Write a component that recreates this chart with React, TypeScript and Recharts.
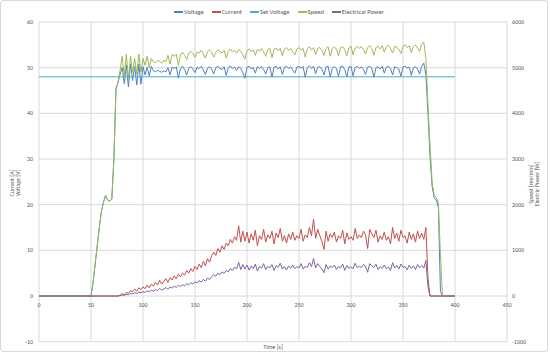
import React from "react"
import { CartesianGrid, Line, LineChart, XAxis, YAxis } from "recharts"

// time [s]
const time = [
  0, 10, 20, 30, 40, 48,
  50, 52, 54, 56, 58, 60, 62, 64, 66, 68,
  70, 72, 74, 76, 78, 80, 82, 84, 86, 88,
  90, 92, 94, 96, 98, 100, 102, 104, 106, 108,
  110, 112, 114, 116, 118, 120, 122, 124, 126, 128,
  130, 132, 134, 136, 138, 140, 142, 144, 146, 148,
  150, 152, 154, 156, 158, 160, 162, 164, 166, 168,
  170, 172, 174, 176, 178, 180, 182, 184, 186, 188,
  190, 192, 194, 196, 198, 200, 202, 204, 206, 208,
  210, 212, 214, 216, 218, 220, 222, 224, 226, 228,
  230, 232, 234, 236, 238, 240, 242, 244, 246, 248,
  250, 252, 254, 256, 258, 260, 262, 264, 266, 268,
  270, 272, 274, 276, 278, 280, 282, 284, 286, 288,
  290, 292, 294, 296, 298, 300, 302, 304, 306, 308,
  310, 312, 314, 316, 318, 320, 322, 324, 326, 328,
  330, 332, 334, 336, 338, 340, 342, 344, 346, 348,
  350, 352, 354, 356, 358, 360, 362, 364, 366, 368,
  370, 372, 374, 376, 378, 380, 382, 384, 386, 388,
  390, 400,
]

// Voltage [V]
const voltage = [
  0, 0, 0, 0, 0, 0,
  0, 3, 7, 11, 15, 18.5, 20.5, 22, 21, 20.8,
  21.2, 30, 45.5, 46.8, 48.6, 50, 46.5, 50.6, 45.8, 50.8,
  47.2, 50.2, 46.2, 50.8, 46.4, 50.2, 48.4, 50.1, 48.2, 50.3,
  49.3, 49.1, 49.4, 49.2, 49.0, 49.3, 49.1, 50.0, 48.4, 50.1,
  49.8, 50.2, 47.7, 49.8, 50.3, 49.6, 48.4, 49.9, 50.2, 49.7,
  48.9, 50.1, 49.8, 50.3, 49.5, 48.5, 49.9, 50.2, 49.7, 48.6,
  50.0, 50.3, 49.8, 49.6, 50.2, 48.3, 49.9, 50.4, 49.8, 50.1,
  49.4, 50.2, 49.9, 48.9, 47.7, 50.1, 50.3, 49.7, 50.0, 48.8,
  50.2, 49.8, 50.3, 49.6, 48.6, 50.0, 50.2, 47.9, 50.1, 50.3,
  49.7, 50.2, 48.5, 50.1, 50.3, 49.8, 50.2, 49.5, 48.8, 50.1,
  50.3, 49.9, 50.2, 47.9, 50.0, 50.4, 49.8, 50.3, 48.7, 50.1,
  50.2, 49.7, 48.4, 50.1, 50.3, 47.9, 49.9, 50.2, 49.8, 48.1,
  50.2, 50.3, 49.6, 48.0, 50.1, 50.3, 48.2, 50.0, 50.3, 49.8,
  50.2, 49.6, 48.5, 50.1, 50.3, 49.9, 47.9, 50.0, 50.2, 49.7,
  50.3, 48.8, 50.1, 50.3, 49.8, 48.4, 50.2, 50.0, 49.7, 48.1,
  50.2, 50.3, 49.9, 50.1, 48.3, 50.0, 50.2, 49.7, 48.6, 50.3,
  51, 48.5, 40, 30.5, 24, 21.5, 21, 19.5, 1, 0,
  0, 0,
]

// Current [A]
const current = [
  0, 0, 0, 0, 0, 0,
  0, 0, 0, 0, 0, 0, 0, 0, 0, 0,
  0, 0, 0, 0, 0.2, 0.5, 0.3, 0.8, 0.6, 1.2,
  0.9, 1.5, 1.1, 1.8, 1.4, 2.0, 1.6, 2.4, 1.8, 2.6,
  2.2, 3.0, 2.4, 3.4, 2.6, 3.2, 3.8, 3.0, 4.0, 3.5,
  4.4, 3.8, 4.8, 4.2, 5.0, 4.6, 5.6, 5.0, 6.0, 5.4,
  6.5, 5.8, 7.0, 6.2, 7.6, 6.6, 8.2, 7.4, 8.8, 9.6,
  8.9, 10.4, 9.6, 11.0, 10.2, 11.6, 11.0, 12.4, 11.6, 13.0,
  12.2, 15.4, 11.8, 14.2, 12.0, 14.0, 11.6, 13.6, 12.2, 14.4,
  11.0, 13.2, 12.4, 14.6, 11.8, 13.4, 12.6, 14.2, 11.4, 13.8,
  12.8, 14.8, 12.0, 13.2, 11.6, 13.6, 12.4, 14.0, 12.2, 13.2,
  12.6, 14.6, 12.0, 13.4, 12.8, 15.0, 13.2, 16.8, 12.6, 14.6,
  13.2, 12.0, 10.2, 14.2, 12.0, 13.6, 12.8, 14.0, 11.8, 13.2,
  12.6, 14.4, 11.4, 13.8, 12.4, 13.0, 12.2, 14.8, 12.6, 13.4,
  12.8, 14.2, 13.4, 10.4, 14.6, 13.6, 12.8, 14.4, 11.8, 13.2,
  12.4, 14.0, 12.2, 13.0, 11.4, 15.0, 12.6, 13.8, 12.0, 14.4,
  12.8, 13.2, 11.6, 14.0, 12.4, 13.6, 11.8, 14.2, 12.6, 13.8,
  12.4, 15.0, 4, 0, 0, 0, 0, 0, 0, 0,
  0, 0,
]

// Speed [rev/min]
const speed = [
  0, 0, 0, 0, 0, 0,
  0, 300, 700, 1100, 1500, 1850, 2050, 2200, 2100, 2080,
  2120, 3000, 4500, 4700, 4950, 5250, 4800, 5300, 4750, 5250,
  4900, 5200, 4850, 5300, 4900, 5200, 5050, 5250, 5000, 5200,
  5130, 5110, 5150, 5140, 5100, 5160, 5130, 5270, 5080, 5290,
  5250, 5300, 5050, 5280, 5340, 5270, 5180, 5320, 5360, 5310,
  5230, 5340, 5320, 5380, 5300, 5210, 5350, 5390, 5340, 5230,
  5340, 5390, 5350, 5320, 5380, 5210, 5360, 5410, 5350, 5380,
  5320, 5400, 5360, 5280, 5190, 5380, 5410, 5350, 5390, 5270,
  5400, 5360, 5420, 5340, 5250, 5390, 5420, 5220, 5400, 5430,
  5370, 5420, 5260, 5410, 5440, 5380, 5420, 5350, 5280, 5410,
  5440, 5390, 5420, 5230, 5410, 5460, 5390, 5440, 5290, 5420,
  5440, 5380, 5270, 5420, 5460, 5250, 5420, 5450, 5400, 5260,
  5440, 5460, 5400, 5260, 5430, 5470, 5280, 5430, 5470, 5420,
  5460, 5400, 5300, 5440, 5480, 5420, 5270, 5440, 5470, 5410,
  5480, 5340, 5450, 5490, 5420, 5320, 5470, 5450, 5400, 5310,
  5470, 5500, 5440, 5480, 5330, 5460, 5500, 5430, 5360, 5520,
  5560, 5200, 4200, 3300, 2500, 2200, 2150, 2050, 900, 0,
  0, 0,
]

// Electrical Power [W]
const power = [
  0, 0, 0, 0, 0, 0,
  0, 0, 0, 0, 0, 0, 0, 0, 0, 0,
  0, 0, 0, 0, 10, 20, 15, 35, 30, 55,
  45, 70, 55, 85, 70, 95, 80, 115, 90, 125,
  110, 145, 120, 165, 130, 155, 185, 150, 195, 175,
  215, 190, 235, 210, 245, 225, 270, 245, 290, 265,
  315, 285, 340, 305, 365, 325, 395, 360, 425, 465,
  435, 500, 465, 530, 495, 560, 530, 600, 565, 630,
  595, 740, 580, 690, 590, 680, 570, 660, 600, 700,
  545, 645, 605, 710, 580, 650, 615, 690, 560, 670,
  625, 720, 590, 645, 570, 660, 605, 680, 600, 645,
  615, 710, 590, 650, 625, 730, 645, 820, 615, 710,
  645, 590, 510, 690, 590, 660, 625, 680, 580, 645,
  615, 700, 560, 670, 605, 635, 600, 720, 615, 655,
  625, 690, 655, 520, 710, 660, 625, 700, 580, 645,
  605, 680, 595, 635, 560, 730, 615, 670, 590, 700,
  625, 645, 570, 680, 605, 660, 580, 690, 615, 670,
  610, 780, 200, 0, 0, 0, 0, 0, 0, 0,
  0, 0,
]

const setVoltageTime = [0, 400]
const setVoltage = [48, 48]

const xTicks = [0, 50, 100, 150, 200, 250, 300, 350, 400, 450]
const leftTicks = [-10, 0, 10, 20, 30, 40, 50, 60]
const rightTicks = [-1000, 0, 1000, 2000, 3000, 4000, 5000, 6000]

const data = time.map((t, i) => ({
  t,
  voltage: voltage[i],
  current: current[i],
  speed: speed[i],
  power: power[i],
}))
const setData = setVoltageTime.map((t, i) => ({ t, setVoltage: setVoltage[i] }))

const COLORS = {
  voltage: "#4F81BD",
  current: "#C0504D",
  setVoltage: "#4BACC6",
  speed: "#9BBB59",
  power: "#8064A2",
}

const FONT = "Carlito, Calibri, Lato, sans-serif"
const TEXT = "#595959"
const GRID = "#d9d9d9"

const W = 550
const H = 360
const TOP = 22
const X_AXIS_H = 18.3
const PLOT_H = H - TOP - X_AXIS_H
const ZERO_Y = TOP + (PLOT_H * 60) / 70

const legendItems = [
  { name: "Voltage", color: COLORS.voltage },
  { name: "Current", color: COLORS.current },
  { name: "Set Voltage", color: COLORS.setVoltage },
  { name: "Speed", color: COLORS.speed },
  { name: "Electrical Power", color: COLORS.power },
]

// Excel puts the time labels on the 0 line, not under the plot
const TimeTick = ({ x, payload }: any) => (
  <text x={x} y={ZERO_Y + 9} dy="0.35em" textAnchor="middle" fill={TEXT} fontSize={6} fontFamily={FONT}>
    {payload.value}
  </text>
)

const axisTitle: React.CSSProperties = {
  position: "absolute",
  fontFamily: FONT,
  fontSize: 6,
  lineHeight: "5.5px",
  color: TEXT,
  textAlign: "center",
  whiteSpace: "nowrap",
  transform: "translate(-50%, -50%) rotate(-90deg)",
}

export default function App() {
  return (
    <div style={{ position: "absolute", left: 0, top: 0, width: W, height: H, background: "#fff" }}>
      <div
        style={{
          position: "absolute",
          left: 0,
          top: 0,
          width: 546,
          height: 350,
          border: `1px solid ${GRID}`,
          borderRadius: 3,
        }}
      />
      <LineChart width={W} height={H} data={data} margin={{ top: TOP, right: 0, bottom: 0, left: 0 }}>
        <CartesianGrid stroke={GRID} yAxisId="left" />
        <XAxis
          dataKey="t"
          type="number"
          domain={[0, 450]}
          ticks={xTicks}
          height={X_AXIS_H}
          axisLine={false}
          tickLine={false}
          tick={<TimeTick />}
          interval={0}
        />
        <YAxis
          yAxisId="left"
          domain={[-10, 60]}
          ticks={leftTicks}
          width={39}
          axisLine={false}
          tickLine={false}
          tickSize={0}
          tickMargin={6}
          tick={{ fill: TEXT, fontSize: 6, fontFamily: FONT }}
          interval={0}
        />
        <YAxis
          yAxisId="right"
          orientation="right"
          domain={[-1000, 6000]}
          ticks={rightTicks}
          width={43}
          axisLine={false}
          tickLine={false}
          tickSize={0}
          tickMargin={5}
          tick={{ fill: TEXT, fontSize: 6, fontFamily: FONT }}
          interval={0}
        />
        <Line yAxisId="left" dataKey="voltage" stroke={COLORS.voltage} strokeWidth={1} dot={false} isAnimationActive={false} />
        <Line yAxisId="left" dataKey="current" stroke={COLORS.current} strokeWidth={1} dot={false} isAnimationActive={false} />
        <Line
          yAxisId="left"
          data={setData}
          dataKey="setVoltage"
          stroke={COLORS.setVoltage}
          strokeWidth={1}
          dot={false}
          isAnimationActive={false}
        />
        <Line yAxisId="right" dataKey="speed" stroke={COLORS.speed} strokeWidth={1} dot={false} isAnimationActive={false} />
        <Line yAxisId="right" dataKey="power" stroke={COLORS.power} strokeWidth={1} dot={false} isAnimationActive={false} />
      </LineChart>

      <div
        style={{
          position: "absolute",
          top: 8,
          left: 0,
          width: W,
          paddingLeft: 4,
          display: "flex",
          justifyContent: "center",
          gap: 8,
          fontFamily: FONT,
          fontSize: 6.5,
          color: TEXT,
          lineHeight: "8px",
        }}
      >
        {legendItems.map((it) => (
          <div key={it.name} style={{ display: "flex", alignItems: "center", gap: 1 }}>
            <span style={{ display: "inline-block", width: 9, height: 1.5, background: it.color }} />
            <span>{it.name}</span>
          </div>
        ))}
      </div>

      <div style={{ ...axisTitle, left: 15, top: 183 }}>
        Current [A]
        <br />
        Voltage [V]
      </div>
      <div style={{ ...axisTitle, left: 534, top: 184 }}>
        Speed [rev/min]
        <br />
        Electric Power [W]
      </div>
      <div
        style={{
          position: "absolute",
          left: 273,
          top: 347,
          transform: "translate(-50%, -50%)",
          fontFamily: FONT,
          fontSize: 6,
          color: TEXT,
          whiteSpace: "nowrap",
        }}
      >
        Time [s]
      </div>
    </div>
  )
}
